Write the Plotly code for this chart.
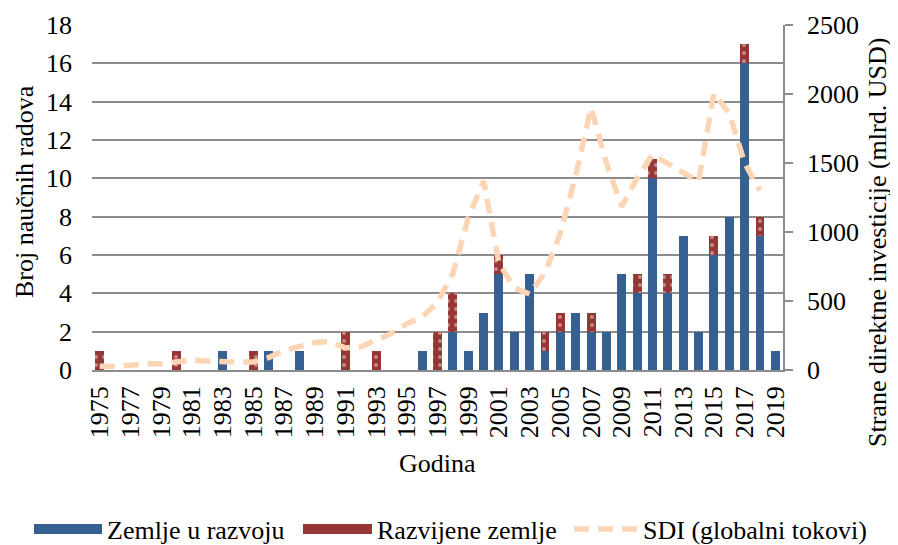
import plotly.graph_objects as go

years = list(range(1975, 2020))
razvoj = [0, 0, 0, 0, 0, 0, 0, 0, 1, 0,
          0, 1, 0, 1, 0, 0, 0, 0, 0, 0,
          0, 1, 0, 2, 1, 3, 5, 2, 5, 1,
          2, 3, 2, 2, 5, 4, 10, 4, 7, 2,
          6, 8, 16, 7, 1]
razvijene = [1, 0, 0, 0, 0, 1, 0, 0, 0, 0,
             1, 0, 0, 0, 0, 0, 2, 0, 1, 0,
             0, 0, 2, 2, 0, 0, 1, 0, 0, 1,
             1, 0, 1, 0, 0, 1, 1, 1, 0, 0,
             1, 0, 1, 1, 0]
sdi_years = list(range(1975, 2019))
sdi = [28, 25, 35, 45, 45, 60, 72, 65, 58, 58,
       58, 90, 140, 168, 200, 205, 160, 168, 215, 265,
       335, 385, 490, 700, 1100, 1370, 775, 595, 550, 705,
       990, 1410, 1900, 1500, 1185, 1390, 1560, 1490, 1430, 1365,
       2005, 1860, 1500, 1300]
tick_years = [y for y in years if y % 2 == 1]
tick_text = [str(y) for y in tick_years]

FONT = "Liberation Serif"
FS = 26
GRID = "#8c8c8c"
BLUE = "#376092"
RED = "#953735"
PEACH = "#FCD5B5"

fig = go.Figure()
fig.add_trace(go.Bar(
    x=years, y=razvoj, name="Zemlje u razvoju", showlegend=False,
    marker=dict(color=BLUE, line=dict(width=0)),
    width=0.58,
))
fig.add_trace(go.Bar(
    x=years, y=razvijene, name="Razvijene zemlje", showlegend=False,
    marker=dict(color=RED, line=dict(width=0),
                pattern=dict(shape=".", fgcolor="#f0e0e0", bgcolor=RED,
                             size=8, solidity=0.18)),
    width=0.58,
))
fig.add_trace(go.Scatter(
    x=sdi_years, y=sdi, name="SDI (globalni tokovi)", yaxis="y2", legend="legend3",
    mode="lines", line=dict(color=PEACH, width=5.5, dash="15px,9px"),
))
# legend swatches (no data drawn)
fig.add_trace(go.Scatter(
    x=[None], y=[None], name="Zemlje u razvoju", legend="legend",
    mode="lines", line=dict(color=BLUE, width=14), hoverinfo="skip",
))
fig.add_trace(go.Scatter(
    x=[None], y=[None], name="Razvijene zemlje", legend="legend2",
    mode="lines", line=dict(color=RED, width=14), hoverinfo="skip",
))

# page shows the figure offset by 8px (body margin); figure sized to fit
W_PLOT = 691.0
H_PLOT = 345.0
def px_to_paper(px):
    return (px - 92) / W_PLOT
def py_to_paper(py):
    return (370 - py) / H_PLOT

LEG_Y = py_to_paper(529)
leg_common = dict(orientation="h", yanchor="middle", y=LEG_Y, xanchor="left",
                  font=dict(family=FONT, size=FS, color="black"),
                  bgcolor="rgba(0,0,0,0)", borderwidth=0)

fig.update_layout(
    width=890, height=537,
    margin=dict(l=84, r=115, t=17, b=175, autoexpand=False),
    paper_bgcolor="white", plot_bgcolor="white",
    barmode="stack",
    font=dict(family=FONT, size=FS, color="black"),
    showlegend=True,
    legend=dict(x=px_to_paper(29), itemwidth=68, **leg_common),
    legend2=dict(x=px_to_paper(298), itemwidth=69, **leg_common),
    legend3=dict(x=px_to_paper(569), itemwidth=64, **leg_common),
    xaxis=dict(
        range=[1974.5, 2019.5], tickmode="array", tickvals=tick_years, ticktext=tick_text,
        tickangle=-90, showgrid=False, showline=True, linecolor=GRID, linewidth=1.5,
        ticks="", ticklabelstandoff=4, zeroline=False, automargin=False,
        tickfont=dict(family=FONT, size=FS),
    ),
    yaxis=dict(
        range=[0, 18], dtick=2, showgrid=True, gridcolor=GRID, gridwidth=1.5,
        showline=False, ticks="", zeroline=False, ticklabelstandoff=19, automargin=False,
        tickfont=dict(family=FONT, size=FS),
    ),
    yaxis2=dict(
        range=[0, 2500], dtick=500, overlaying="y", side="right", showgrid=False,
        showline=True, linecolor=GRID, linewidth=1.5, ticks="outside", ticklen=8,
        tickcolor=GRID, tickwidth=1.5, zeroline=False, ticklabelstandoff=9,
        automargin=False, tickfont=dict(family=FONT, size=FS),
    ),
    annotations=[
        dict(text="Godina", xref="paper", yref="paper", x=0.5, y=py_to_paper(463),
             xanchor="center", yanchor="middle", showarrow=False,
             font=dict(family=FONT, size=FS)),
        dict(text="Broj naučnih radova", xref="paper", yref="paper", x=px_to_paper(24),
             y=py_to_paper(192), xanchor="center", yanchor="middle", textangle=-90,
             showarrow=False, font=dict(family=FONT, size=FS)),
        dict(text="Strane direktne investicije (mlrd. USD)", xref="paper", yref="paper",
             x=px_to_paper(877), y=py_to_paper(243), xanchor="center", yanchor="middle",
             textangle=-90, showarrow=False, font=dict(family=FONT, size=FS)),
    ],
)

fig.write_html("out.html")
